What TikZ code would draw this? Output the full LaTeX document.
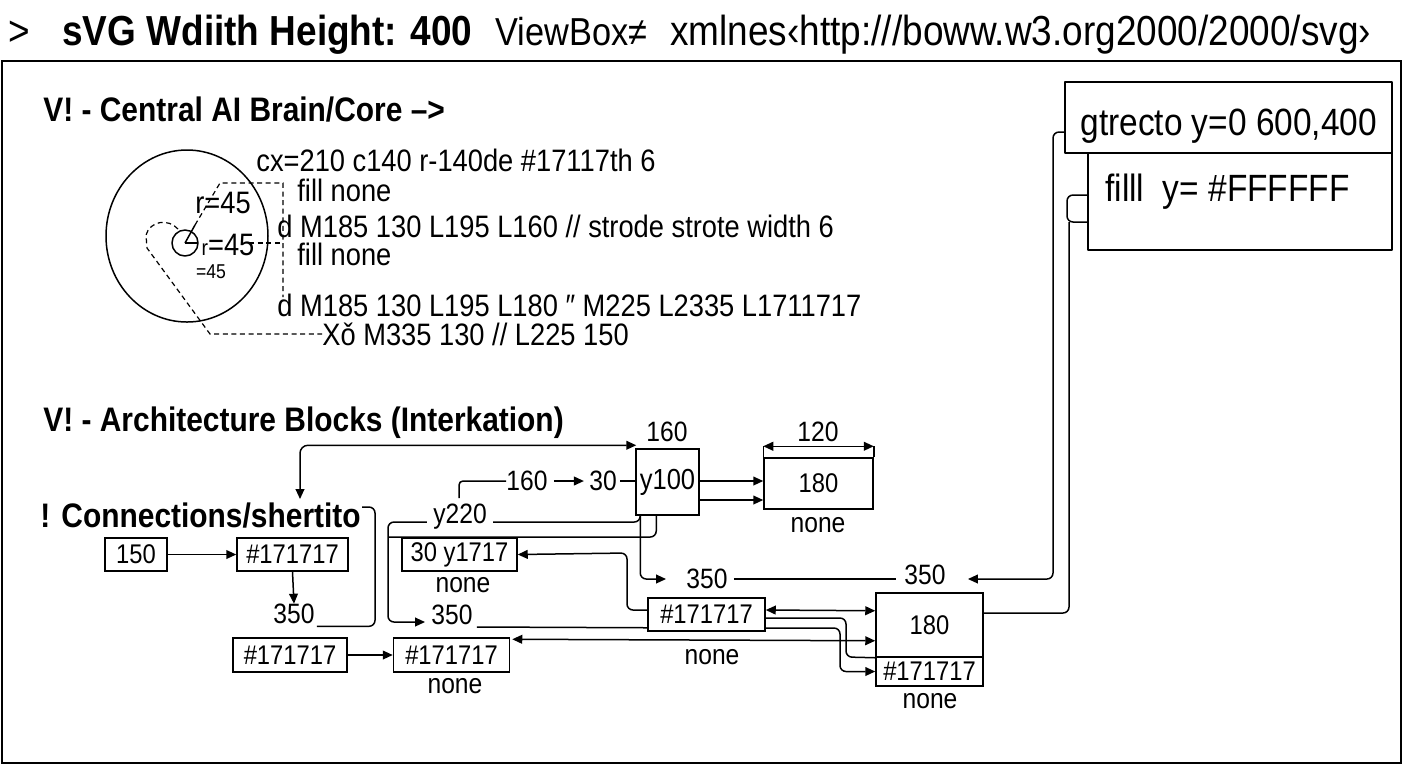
\documentclass[tikz,border=0pt]{standalone}
\usepackage{fontspec}
\setmainfont[FakeStretch=0.88]{Liberation Sans}
\usetikzlibrary{arrows.meta,calc}
\tikzset{
 ln/.style={line width=0.75pt, line join=round},
 arr/.style={ln, -{Triangle[length=5pt,width=4.4pt]}},
 darr/.style={ln, {Triangle[length=5pt,width=4.4pt]}-{Triangle[length=5pt,width=4.4pt]}},
 dsh/.style={line width=0.6pt, dash pattern=on 2.5pt off 1.8pt},
 bx/.style={draw, line width=0.75pt, inner sep=0pt, font=\fontsize{13.5}{15}\selectfont},
 lbl/.style={inner sep=0pt, font=\fontsize{14}{16}\selectfont},
 body/.style={inner sep=0pt, anchor=west, font=\fontsize{15.5}{18}\selectfont},
 head/.style={inner sep=0pt, anchor=west, font=\fontsize{17}{20}\selectfont\bfseries},
 big/.style={inner sep=0pt, anchor=base west, font=\fontsize{21}{24}\selectfont},
}
\begin{document}
\begin{tikzpicture}[x=0.5pt,y=-0.5pt]
\useasboundingbox (0,0) rectangle (1408,768);
\fill[white] (0,0) rectangle (1408,768);
\draw[line width=1.2pt] (2,61) rectangle (1401,763);

% header
\node[big] (h0) at (8,45) {>};
\node[big, font=\fontsize{21}{24}\selectfont\bfseries] (h1) at (62,45) {sVG Wdiith Height: 400};
\node[big, font=\fontsize{19.5}{22}\selectfont] (h2) at (495,45) {ViewBox≠};
\node[big] (h3) at (670,45) {xmlnes‹http:///boww.w3.org2000/2000/svg›};

% section 1
\node[head] (s1) at (43,110) {V! - Central AI Brain/Core –>};
\draw[ln] (187,236) ellipse [x radius=81, y radius=86];
\draw[ln] (185,243) circle [radius=13];
\draw[ln] (185,243) -- (195,225);
\draw[ln] (185,243) -- (198,243);
\draw[dsh] (195,225) -- (220,183) -- (283,183) -- (283,297);
\draw[dsh] (249,243) -- (283,243);
\node[body, anchor=center] (r1) at (223,203) {r=45};
\node[body, anchor=center] (r2) at (228,245) {{\fontsize{11}{12}\selectfont r}=45};
\node[inner sep=0pt, font=\fontsize{10}{12}\selectfont] (r3) at (211,272) {=45};
\node[body] (t1) at (256,160) {cx=210 c140 r-140de \#17117th 6};
\node[body] (t2) at (297,190) {fill none};
\node[body] (t3) at (277,226) {d M185 130 L195 L160 // strode strote width 6};
\node[body] (t4) at (297,254) {fill none};
\node[body] (t5) at (277,305) {d M185 130 L195 L180 ″ M225 L2335 L1711717};
\node[body] (t6) at (322,334) {Xǒ M335 130 // L225 150};
\draw[dsh] (178,229) .. controls (168,218) and (150,221) .. (146,235) -- (147,248) -- (210,334) -- (t6.west);

% right boxes
\node[draw, ln, minimum width=163.5pt, minimum height=35.5pt, inner sep=0pt] (G) at (1228.5,117.5) {};
\node[inner sep=0pt, anchor=west, font=\fontsize{19}{22}\selectfont] (gtx) at (1080,126) {gtrecto y=0 600,400};
\node[draw, ln, minimum width=152pt, minimum height=48.5pt, inner sep=0pt] (F) at (1240,201.5) {};
\node[inner sep=0pt, anchor=west, font=\fontsize{19}{22}\selectfont] (ftx) at (1105,192) {filll\ \ y= \#FFFFFF};

% section 2
\node[head] (s2) at (43,423) {V! - Architecture Blocks (Interkation)};
\node[head] (s3) at (40,516) {! Connections/shertito};

\node[bx, minimum width=31pt, minimum height=16.5pt] (n150) at (136,554.5) {150};
\node[bx, minimum width=55.5pt, minimum height=16.5pt] (A) at (292.5,554.5) {\#171717};
\node[bx, minimum width=57pt, minimum height=17pt] (B) at (290,655) {\#171717};
\node[bx, minimum width=58pt, minimum height=17pt] (C) at (451.5,655) {\#171717};
\node[bx, minimum width=57.5pt, minimum height=16.5pt] (E) at (459.5,554.5) {30 y1717};
\node[bx, minimum width=31.5pt, minimum height=33pt, font=\fontsize{14.5}{16}\selectfont] (Y) at (667.5,482) {y100};
\node[bx, minimum width=54.5pt, minimum height=25.5pt] (T) at (818.5,483.5) {180};
\node[bx, minimum width=58.5pt, minimum height=16.5pt] (D) at (706.5,614.5) {\#171717};
\node[bx, minimum width=53.5pt, minimum height=32pt] (R) at (929.5,625) {180};
\node[bx, minimum width=53.5pt, minimum height=14.5pt] (S) at (929.5,671.5) {\#171717};

\node[lbl] (l160a) at (667,432) {160};
\node[lbl] (l120) at (818,432) {120};
\node[lbl] (nT) at (818,525) {none};
\node[lbl] (l160b) at (527,481) {160};
\node[lbl] (l30) at (603,481) {30};
\node[lbl] (y220) at (460,517) {y220};
\node[lbl] (nE) at (463,585) {none};
\node[lbl] (l350a) at (294,614) {350};
\node[lbl] (l350b) at (452,615) {350};
\node[lbl] (l350c) at (707,579) {350};
\node[lbl] (l350d) at (925,575) {350};
\node[lbl] (nC) at (455,686) {none};
\node[lbl] (nD) at (712,657) {none};
\node[lbl] (nS) at (930,701) {none};

\coordinate (fb1) at (300,499);
\coordinate (h350) at (362,507);
\coordinate (st160) at (459,498);

% connectors lower left
\draw[arr] (n150) -- (A);
\draw[arr] (A.south) -- (l350a.north);
\draw[ln, rounded corners=3pt] ($(l350a.south east)+(2,2)$) -| (375,507) -- (h350);
\draw[arr] (B) -- (C);
\draw[darr, rounded corners=4pt] (fb1) |- ($(Y.north west)+(1,-3)$);

% y100 area
\draw[ln, rounded corners=2pt] (st160) |- (l160b.west);
\draw[arr] ($(l160b.east)+(6,0)$) -- ($(l30.west)+(-5,0)$);
\draw[ln] ($(l30.east)+(3,0)$) -- (Y.west |- l30);
\draw[ln, rounded corners=3pt] ($(y220.east)+(6,5)$) -| ($(Y.south west)+(5,0)$);
\draw[arr, rounded corners=3pt] ($(y220.west)+(-6,5)$) -| (388,622) -- ($(l350b.west)+(-6,7)$);
\draw[ln, rounded corners=3pt] (388,537) -| ($(Y.south west)+(21,0)$);
\draw[arr, rounded corners=3pt] ($(Y.south west)+(5,0)$) |- ($(l350c.west)+(-20,0)$);
\draw[ln] ($(l350c.east)+(6,0)$) -- ($(l350c.east -| l350d.west)+(-8,0)$);
\draw[arr] ($(Y.east)+(0,-1)$) -- ($(T.west)+(0,-2.5)$);
\draw[arr] ($(Y.east)+(0,18)$) -- ($(T.west)+(0,16.5)$);
\draw[ln] (T.north west) -- ++(0,-11);
\draw[ln] (T.north east) -- ++(0,-11);
\draw[darr] ($(T.north west)+(0,-11)$) -- ($(T.north east)+(0,-11)$);

% D and E
\draw[arr, rounded corners=3pt] ($(D.west)+(0,-4.5)$) -| (627,553) -- (E.east);
\draw[ln] ($(l350b.east)+(4,12)$) -- ($(D.south west)+(0,-4)$);
\draw[darr] ($(C.north east)+(2,2)$) -- ($(R.south west)+(0,-17)$);
\draw[darr] ($(D.east)+(0,-4.5)$) -- ($(R.south west)+(0,-47)$);
\draw[ln, rounded corners=3pt] ($(D.east)+(0,3.5)$) -| (846,657) -- (R.south west);
\draw[arr, rounded corners=3pt] ($(D.east)+(0,13.5)$) -| (840,671.5) -- (S.west);

% right side links
\draw[arr, rounded corners=3pt] ($(G.west)+(0,14.5)$) -| (1053,579) -- ($(l350c.east -| l350d.east)+(22,0)$);
\draw[ln, rounded corners=3pt] ($(F.west)+(0,-6.5)$) -| (1067,222) -- ($(F.west)+(0,20.5)$);
\draw[ln, rounded corners=3pt] ($(R.east)+(0,-12)$) -| (1069,222);
\end{tikzpicture}
\end{document}
